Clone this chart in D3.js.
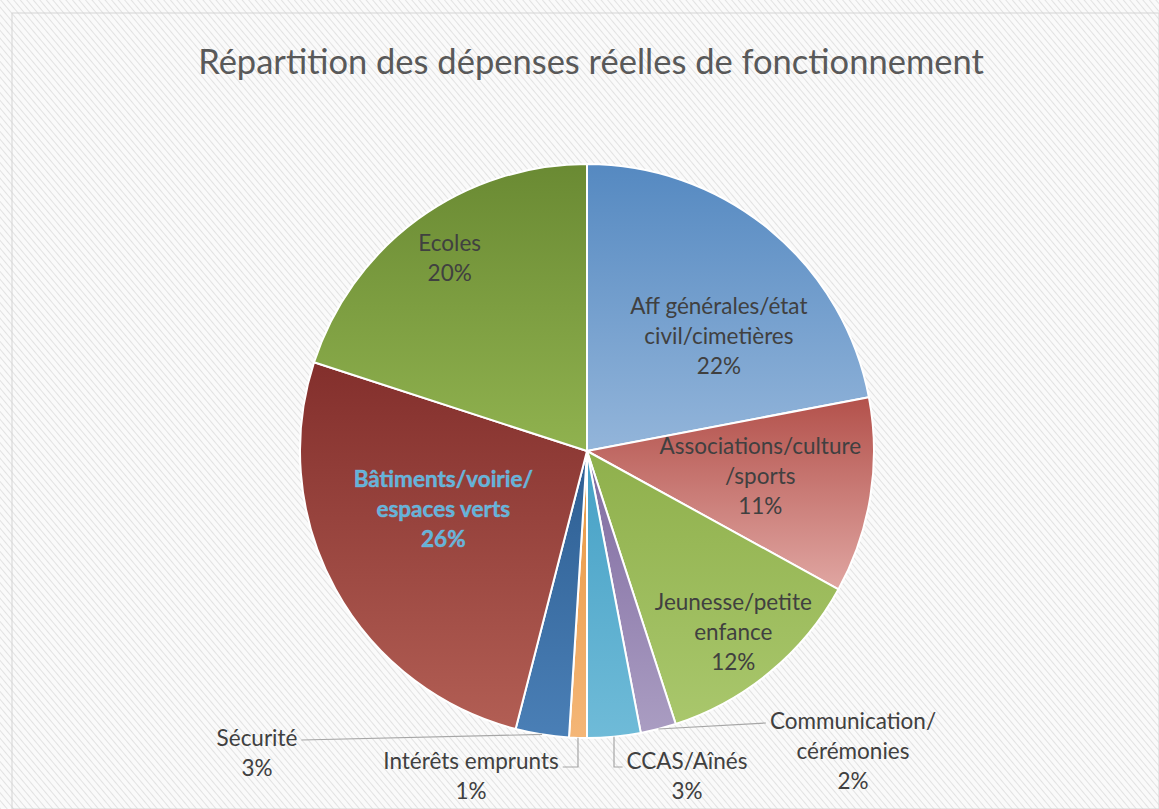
<!DOCTYPE html>
<html lang="fr">
<head>
<meta charset="UTF-8">
<title>Répartition des dépenses réelles de fonctionnement</title>
<script src="https://d3js.org/d3.v7.min.js"></script>
<style>
  html, body { margin: 0; padding: 0; background: #fff; }
  svg text { font-family: Lato, "Open Sans", sans-serif; }
</style>
</head>
<body>
<div id="chart"></div>
<script>
// data (clockwise from 12 o'clock)
const categories = [
  "Aff générales/état civil/cimetières",
  "Associations/culture /sports",
  "Jeunesse/petite enfance",
  "Communication/ cérémonies",
  "CCAS/Aînés",
  "Intérêts emprunts",
  "Sécurité",
  "Bâtiments/voirie/ espaces verts",
  "Ecoles"
];
const values = [22, 11, 12, 2, 3, 1, 3, 26, 20];

// how each label is broken into lines
const labelLines = [
  ["Aff générales/état", "civil/cimetières"],
  ["Associations/culture", "/sports"],
  ["Jeunesse/petite", "enfance"],
  ["Communication/", "cérémonies"],
  ["CCAS/Aînés"],
  ["Intérêts emprunts"],
  ["Sécurité"],
  ["Bâtiments/voirie/", "espaces verts"],
  ["Ecoles"]
];

// slice colours: [top, bottom] of the gradient
const colors = [
  ["#5589c1", "#93b5da"],
  ["#b3514b", "#e0a6a2"],
  ["#8fb04c", "#a9c76c"],
  ["#7f6aa0", "#aa9dc2"],
  ["#45a0c5", "#6fbbd8"],
  ["#e8963f", "#f4b677"],
  ["#2d5e92", "#4a7fb6"],
  ["#832f2c", "#b25e54"],
  ["#6a8a33", "#90b24f"]
];

const W = 1159, H = 809;
const cx = 587, cy = 451, R = 287;
const lh = 30;
const fs = 22.5;

// label placement: inside labels polar (fraction of R, angle shift in deg),
// outside labels as offset from the pie centre plus leader style
const labelLayout = [
  { inside: true, r: 0.61, da: 9.3 },
  { inside: true, r: 0.61, da: -0.8 },
  { inside: true, r: 0.81, da: 0.6 },
  { inside: false, dx: 266, dy: 300, leader: "direct", side: "left" },
  { inside: false, dx: 100, dy: 325, leader: "elbow", side: "left" },
  { inside: false, dx: -116, dy: 325, leader: "elbow", side: "right" },
  { inside: false, dx: -330, dy: 302, leader: "direct", side: "right" },
  { inside: true, r: 0.54, da: 6.8, special: true },
  { inside: true, r: 0.826, da: 0.6 }
];

const svg = d3.select("#chart").append("svg")
  .attr("width", W).attr("height", H);

const defs = svg.append("defs");

// scanned-paper hatching
const pat = defs.append("pattern")
  .attr("id", "hatch")
  .attr("patternUnits", "userSpaceOnUse")
  .attr("width", 5).attr("height", 5)
  .attr("patternTransform", "rotate(-40)");
pat.append("rect").attr("width", 5).attr("height", 5).attr("fill", "#fafafa");
pat.append("line").attr("x1", 0).attr("y1", 0).attr("x2", 0).attr("y2", 5)
  .attr("stroke", "#e2e2e2").attr("stroke-width", 2);

svg.append("rect").attr("width", W).attr("height", H).attr("fill", "url(#hatch)");
svg.append("rect")
  .attr("x", 12).attr("y", 13).attr("width", W - 12).attr("height", H - 13)
  .attr("fill", "none").attr("stroke", "#d4d4d4");

colors.forEach((c, i) => {
  const g = defs.append("linearGradient")
    .attr("id", "grad" + i)
    .attr("x1", 0).attr("y1", 0).attr("x2", 0).attr("y2", 1);
  g.append("stop").attr("offset", "0%").attr("stop-color", c[0]);
  g.append("stop").attr("offset", "100%").attr("stop-color", c[1]);
});

// title
svg.append("text")
  .attr("x", 591).attr("y", 74)
  .attr("text-anchor", "middle")
  .attr("font-size", 34.5)
  .attr("fill", "#595959")
  .text("Répartition des dépenses réelles de fonctionnement");

const data = categories.map((c, i) => ({ name: c, value: values[i], i: i }));

const pie = d3.pie().value(d => d.value).sort(null);
const arcs = pie(data);
const arc = d3.arc().innerRadius(0).outerRadius(R);

const g = svg.append("g").attr("transform", `translate(${cx},${cy})`);

g.selectAll("path.slice")
  .data(arcs)
  .join("path")
  .attr("class", "slice")
  .attr("d", arc)
  .attr("fill", d => `url(#grad${d.data.i})`)
  .attr("stroke", "#fff")
  .attr("stroke-width", 2)
  .attr("stroke-linejoin", "round");

const polar = (a, r) => [r * Math.sin(a), -r * Math.cos(a)];

arcs.forEach(d => {
  const i = d.data.i;
  const L = labelLayout[i];
  const lines = labelLines[i].concat([d.data.value + "%"]);
  const mid = (d.startAngle + d.endAngle) / 2;
  let bx, by;
  if (L.inside) {
    [bx, by] = polar(mid + L.da * Math.PI / 180, L.r * R);
  } else {
    bx = L.dx; by = L.dy;
  }
  const y0 = by - (lines.length - 1) / 2 * lh;
  const t = g.append("text")
    .attr("text-anchor", "middle")
    .attr("font-size", fs)
    .attr("fill", L.special ? "#5fb2da" : "#404040")
    .attr("font-weight", L.special ? "bold" : null);
  if (L.special) {
    t.attr("stroke", "#8cc8e6").attr("stroke-width", 0.6).attr("stroke-opacity", 0.6);
  }
  lines.forEach((s, k) => {
    t.append("tspan").attr("x", bx).attr("y", y0 + k * lh).attr("dy", "0.35em").text(s);
  });

  if (!L.inside) {
    // leader line from slice edge to first label line
    const first = t.select("tspan").node();
    const w = first.getComputedTextLength();
    const ex = L.side === "left" ? bx - w / 2 - 4 : bx + w / 2 + 4;
    const ey = y0 + 2;
    const [sx, sy] = polar(mid, R);
    let pts;
    if (L.leader === "direct") {
      pts = [[sx, sy], [ex, ey]];
    } else {
      pts = [[sx, sy], [sx, ey + 4], [ex, ey + 4]];
    }
    g.append("path")
      .attr("d", d3.line()(pts))
      .attr("fill", "none")
      .attr("stroke", "#a6a6a6")
      .attr("stroke-width", 1.2);
  }
});
</script>
</body>
</html>
